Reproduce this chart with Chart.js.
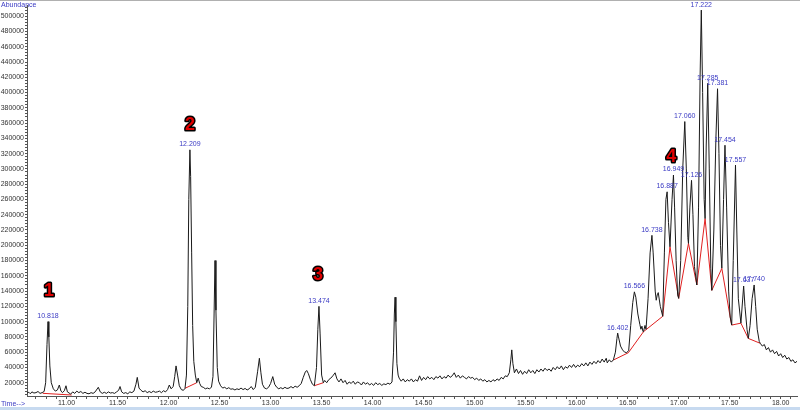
<!DOCTYPE html>
<html>
<head>
<meta charset="utf-8">
<style>
  html, body { margin: 0; padding: 0; background: #fff; }
  #wrap { width: 800px; height: 410px; position: relative; }
</style>
<script src="https://cdn.jsdelivr.net/npm/chart.js@4.4.1/dist/chart.umd.min.js"></script>
</head>
<body>
<div id="wrap"><canvas id="tic" width="800" height="410"></canvas></div>
<script>
// TIC trace, [retention time (min), abundance]
const region1 = [
  [10.612,6500],[10.63,7500],[10.645,5500],[10.66,8000],[10.68,6500],[10.70,7000],[10.72,8500],[10.74,6000],
  [10.76,7000],[10.78,8500],[10.795,20000],[10.808,70000],[10.818,100000],[10.826,80000],[10.836,42000],
  [10.85,20000],[10.87,12000],[10.89,9000],[10.91,10500],[10.929,17000],[10.945,9000],[10.96,7000],
  [10.978,9500],[10.994,16000],[11.008,8000],[11.025,6500],[11.04,5000],[11.06,8000],[11.08,6000],
  [11.10,9000],[11.12,7000],[11.14,8500],[11.16,6000],[11.18,7500],[11.20,6000],[11.22,5500],[11.24,7000],
  [11.26,6000],[11.28,8000],[11.311,14000],[11.33,8000],[11.35,6000],[11.37,7500],[11.39,6000],[11.41,8000],
  [11.43,6500],[11.45,7000],[11.47,6000],[11.49,8000],[11.51,10000],[11.524,15000],[11.54,8000],[11.56,6000],
  [11.58,7000],[11.60,5500],[11.62,8000],[11.64,7000],[11.66,9000],[11.68,18000],[11.693,27000],[11.71,13000],
  [11.73,10000],[11.75,8000],[11.77,9500],[11.79,7000],[11.81,8500],[11.83,7000],[11.85,9000],[11.87,7500],
  [11.89,8000],[11.91,9000],[11.93,7000],[11.95,9500],[11.97,8000],[11.99,11000],[12.007,17000],[12.025,12000],
  [12.045,15000],[12.06,28000],[12.073,42000],[12.088,30000],[12.105,16000],[12.125,11000],[12.145,10000]
];
const region2 = [
  [12.161,12700],[12.175,30000],[12.188,120000],[12.198,260000],[12.209,325000],[12.216,290000],[12.226,190000],
  [12.236,95000],[12.247,48000],[12.262,30000],[12.276,20000],[12.29,26000],[12.305,19000],[12.32,15000],
  [12.34,14000],[12.36,12000],[12.38,13000],[12.40,12000],[12.42,14000],[12.435,28000],[12.446,110000],
  [12.455,180000],[12.464,115000],[12.477,40000],[12.49,22000],[12.51,16000],[12.53,13000],[12.55,14000],
  [12.57,12000],[12.59,13500],[12.61,11500],[12.63,12000],[12.65,10500],[12.67,12000],[12.69,11000],
  [12.71,13000],[12.73,11000],[12.75,12500],[12.77,10500],[12.79,12000],[12.81,15000],[12.83,11000],
  [12.85,14000],[12.873,35000],[12.89,52000],[12.905,33000],[12.92,18000],[12.94,13000],[12.96,12000],
  [12.98,14000],[13.00,19000],[13.021,28000],[13.04,18000],[13.06,14000],[13.08,12000],[13.10,13500],
  [13.12,12000],[13.14,14000],[13.16,12500],[13.18,13000],[13.20,15000],[13.22,13000],[13.24,15500],
  [13.26,14000],[13.28,16000],[13.30,19000],[13.32,27000],[13.34,34000],[13.354,36000],[13.37,32000],
  [13.39,24000],[13.41,18000],[13.429,16100],[13.45,40000],[13.463,90000],[13.474,120000],[13.485,85000],
  [13.50,30000],[13.517,20000],[13.53,23000],[13.55,20000],[13.57,24000],[13.59,26000],[13.61,29000],
  [13.632,33000],[13.65,25000],[13.67,21000],[13.69,25000],[13.71,20000],[13.73,23000],[13.75,18000],
  [13.77,21000],[13.79,19000],[13.81,22000],[13.83,18000],[13.85,21000],[13.87,20000],[13.89,17000],
  [13.91,21000],[13.93,18000],[13.95,20000],[13.97,17000],[13.99,19000],[14.01,16500],[14.03,20000],
  [14.05,17500],[14.07,19000],[14.09,16500],[14.11,18500],[14.13,17500],[14.15,19500],[14.17,18000],
  [14.19,21000],[14.205,60000],[14.213,110000],[14.220,132000],[14.228,100000],[14.238,45000]
];
const region3 = [
  [14.25,30000],[14.26,26000],[14.28,22000],[14.30,25000],[14.32,21000],[14.34,24000],[14.36,22000],
  [14.38,25000],[14.40,21000],[14.42,24000],[14.44,22000],[14.46,29000],[14.48,23000],[14.50,27000],
  [14.52,24000],[14.54,28000],[14.56,25000],[14.58,27000],[14.60,24000],[14.62,28000],[14.64,26000],
  [14.66,29000],[14.68,25000],[14.70,28000],[14.72,26000],[14.74,30000],[14.76,27000],[14.78,29000],
  [14.80,33000],[14.82,27000],[14.84,30000],[14.86,26000],[14.88,29000],[14.90,27000],[14.92,25000],
  [14.94,28000],[14.96,26000],[14.98,27000],[15.00,24000],[15.02,26000],[15.04,23000],[15.06,25000],
  [15.08,22000],[15.10,24000],[15.12,21000],[15.14,23000],[15.16,21000],[15.18,24000],[15.20,22000],
  [15.22,25000],[15.24,23000],[15.26,27000],[15.28,25000],[15.30,29000],[15.32,28000],[15.34,33000],
  [15.355,50000],[15.364,63000],[15.375,45000],[15.39,33000],[15.41,38000],[15.43,32000],[15.45,36000],
  [15.47,31000],[15.49,35000],[15.51,32000],[15.53,37000],[15.55,33000],[15.57,36000],[15.59,32000],
  [15.61,37000],[15.63,34000],[15.65,38000],[15.67,35000],[15.69,39000],[15.71,36000],[15.73,38000],
  [15.75,35000],[15.77,40000],[15.79,37000],[15.81,41000],[15.83,38000],[15.85,42000],[15.87,37000],
  [15.89,41000],[15.91,39000],[15.93,43000],[15.95,40000],[15.97,44000],[15.99,40000],[16.01,43000],
  [16.03,41000],[16.05,45000],[16.07,42000],[16.09,46000],[16.11,42000],[16.13,47000],[16.15,44000],
  [16.17,48000],[16.19,45000],[16.21,49000],[16.23,46000],[16.25,51000],[16.27,47000],[16.29,52000]
];
const cluster = [
  [16.30,46000],[16.32,50000],[16.34,47000],[16.36,50000],[16.38,60000],[16.395,78000],[16.402,85000],
  [16.41,80000],[16.43,68000],[16.45,63000],[16.47,60000],[16.49,59500],[16.51,62000],[16.53,95000],
  [16.55,125000],[16.566,139000],[16.58,132000],[16.60,110000],[16.62,96000],[16.63,90000],[16.64,94000],
  [16.65,87000],[16.655,86800],[16.67,95000],[16.68,90000],[16.70,130000],[16.72,190000],[16.738,213000],
  [16.75,190000],[16.77,140000],[16.78,128000],[16.79,135000],[16.80,138000],[16.82,120000],[16.844,107000],
  [16.86,190000],[16.875,260000],[16.887,270000],[16.90,230000],[16.915,198000],[16.935,260000],
  [16.949,292000],[16.96,250000],[16.975,180000],[16.99,135000],[17.00,130500],[17.02,180000],
  [17.04,300000],[17.06,362000],[17.075,300000],[17.09,210000],[17.096,202500],[17.11,250000],
  [17.126,285000],[17.14,240000],[17.155,172000],[17.178,148000],[17.195,250000],[17.21,420000],
  [17.222,508000],[17.235,400000],[17.25,260000],[17.259,235000],[17.27,330000],[17.285,412000],
  [17.30,300000],[17.315,170000],[17.325,141000],[17.345,220000],[17.365,340000],[17.381,405000],
  [17.395,320000],[17.41,200000],[17.423,170000],[17.44,260000],[17.454,331000],[17.47,250000],
  [17.49,140000],[17.505,106000],[17.52,95500],[17.535,180000],[17.557,305000],[17.57,220000],
  [17.585,130000],[17.61,98000],[17.637,146600],[17.65,120000],[17.67,90000],[17.683,78000],[17.70,95000],
  [17.72,130000],[17.74,148000],[17.755,120000],[17.77,90000],[17.79,74000],[17.80,71600],[17.82,68000],
  [17.84,70000],[17.86,63000],[17.88,66000],[17.90,60000],[17.92,63000],[17.94,58000],[17.96,61000],
  [17.98,55000],[18.00,58000],[18.02,53000],[18.04,56000],[18.06,51000],[18.08,53000],[18.10,48000],
  [18.12,50000],[18.14,46000],[18.16,48000]
];

// integrated peaks: retention time label and apex abundance
const peakRT = [10.818, 12.209, 13.474, 16.402, 16.566, 16.738, 16.887, 16.949, 17.060, 17.126,
                17.222, 17.285, 17.381, 17.454, 17.557, 17.637, 17.740];
const peakTop = [100000, 325000, 120000, 85000, 139000, 213000, 270000, 292000, 362000, 285000,
                 508000, 412000, 405000, 331000, 305000, 146600, 148000];

// integration baselines (red)
const baselines = [
  [[10.766,6100],[11.05,3900]],
  [[12.161,12700],[12.276,20000]],
  [[13.429,16100],[13.517,20000]],
  [[16.36,49700],[16.507,59300],[16.655,86800],[16.844,107000],[16.915,198000],[17.00,130500],
   [17.096,202500],[17.178,148000],[17.259,235000],[17.325,141000],[17.423,169700],[17.505,106000],
   [17.52,95500],[17.61,98000],[17.683,78000],[17.80,71600]]
];

// compound numbers placed on the chart
const compoundNo = ['1', '2', '3', '4'];
const compoundAt = [[10.828,140000],[12.209,357000],[13.465,161000],[16.927,315000]];

const xTickLabels = [11.00, 11.50, 12.00, 12.50, 13.00, 13.50, 14.00, 14.50, 15.00, 15.50,
                     16.00, 16.50, 17.00, 17.50, 18.00];
const yTickLabels = [20000, 40000, 60000, 80000, 100000, 120000, 140000, 160000, 180000, 200000,
                     220000, 240000, 260000, 280000, 300000, 320000, 340000, 360000, 380000, 400000,
                     420000, 440000, 460000, 480000, 500000];

const trace = region1.concat(region2, region3, cluster).map(([x, y]) => ({ x, y }));

const FONT = '"Liberation Sans", Arial, sans-serif';
const BLUE = '#3b3bc4';

const datasets = [{
  data: trace,
  borderColor: '#1a1a1a',
  borderWidth: 1,
  pointRadius: 0,
  tension: 0
}];
baselines.forEach(seg => {
  datasets.push({
    data: seg.map(([x, y]) => ({ x, y })),
    borderColor: '#e02020',
    borderWidth: 1,
    pointRadius: 0,
    tension: 0
  });
});

const frame = {
  id: 'frame',
  beforeDraw(chart) {
    const ctx = chart.ctx;
    ctx.save();
    ctx.fillStyle = '#fff';
    ctx.fillRect(0, 0, chart.width, chart.height);
    ctx.fillStyle = '#c7daf0';
    ctx.fillRect(0, 407, chart.width, 3);
    ctx.fillStyle = '#b0b0b0';
    ctx.fillRect(0, 0, chart.width, 1);
    ctx.restore();
  },
  afterDatasetsDraw(chart) {
    const { ctx, scales: { x, y } } = chart;
    ctx.save();
    ctx.font = '7px ' + FONT;
    ctx.fillStyle = BLUE;
    ctx.textAlign = 'center';
    ctx.textBaseline = 'bottom';
    peakRT.forEach((rt, i) => {
      ctx.fillText(rt.toFixed(3), x.getPixelForValue(rt), y.getPixelForValue(peakTop[i]) - 2);
    });

    ctx.font = 'bold 18px ' + FONT;
    ctx.textBaseline = 'middle';
    ctx.lineJoin = 'round';
    ctx.lineWidth = 3;
    ctx.strokeStyle = '#000';
    ctx.fillStyle = '#e00000';
    compoundNo.forEach((n, i) => {
      const px = x.getPixelForValue(compoundAt[i][0]);
      const py = y.getPixelForValue(compoundAt[i][1]);
      ctx.strokeText(n, px, py);
      ctx.fillText(n, px, py);
    });

    ctx.font = '7px ' + FONT;
    ctx.fillStyle = BLUE;
    ctx.textAlign = 'left';
    ctx.textBaseline = 'middle';
    ctx.fillText('Abundance', 1, 5);
    ctx.fillText('Time-->', 1, 404);
    ctx.restore();
  }
};

new Chart(document.getElementById('tic'), {
  type: 'line',
  data: { datasets },
  options: {
    responsive: false,
    animation: false,
    events: [],
    layout: { padding: { top: 5, right: 3, left: 0, bottom: 0 } },
    plugins: { legend: { display: false }, tooltip: { enabled: false } },
    scales: {
      x: {
        type: 'linear',
        min: 10.612,
        max: 18.16,
        afterBuildTicks: s => {
          const t = [];
          for (let v = 107; v <= 181; v++) t.push({ value: v / 10 });
          s.ticks = t;
        },
        afterFit: s => { s.height = 14; },
        ticks: {
          autoSkip: false,
          maxRotation: 0,
          padding: 0,
          color: '#333',
          font: { size: 7, family: FONT },
          callback: v => {
            const hit = xTickLabels.find(l => Math.abs(l - v) < 1e-6);
            return hit !== undefined ? hit.toFixed(2) : '';
          }
        },
        grid: { drawOnChartArea: false, tickLength: 3, color: '#555' },
        border: { color: '#555' }
      },
      y: {
        min: 2600,
        max: 514400,
        afterBuildTicks: s => {
          const t = [];
          for (let v = 4000; v <= 512000; v += 4000) t.push({ value: v });
          s.ticks = t;
        },
        afterFit: s => { s.width = 27; },
        ticks: {
          autoSkip: false,
          padding: 1,
          color: '#333',
          font: { size: 7, family: FONT },
          callback: v => yTickLabels.includes(v) ? String(v) : ''
        },
        grid: { drawOnChartArea: false, tickLength: 2, color: '#555' },
        border: { color: '#555' }
      }
    }
  },
  plugins: [frame]
});
</script>
</body>
</html>
